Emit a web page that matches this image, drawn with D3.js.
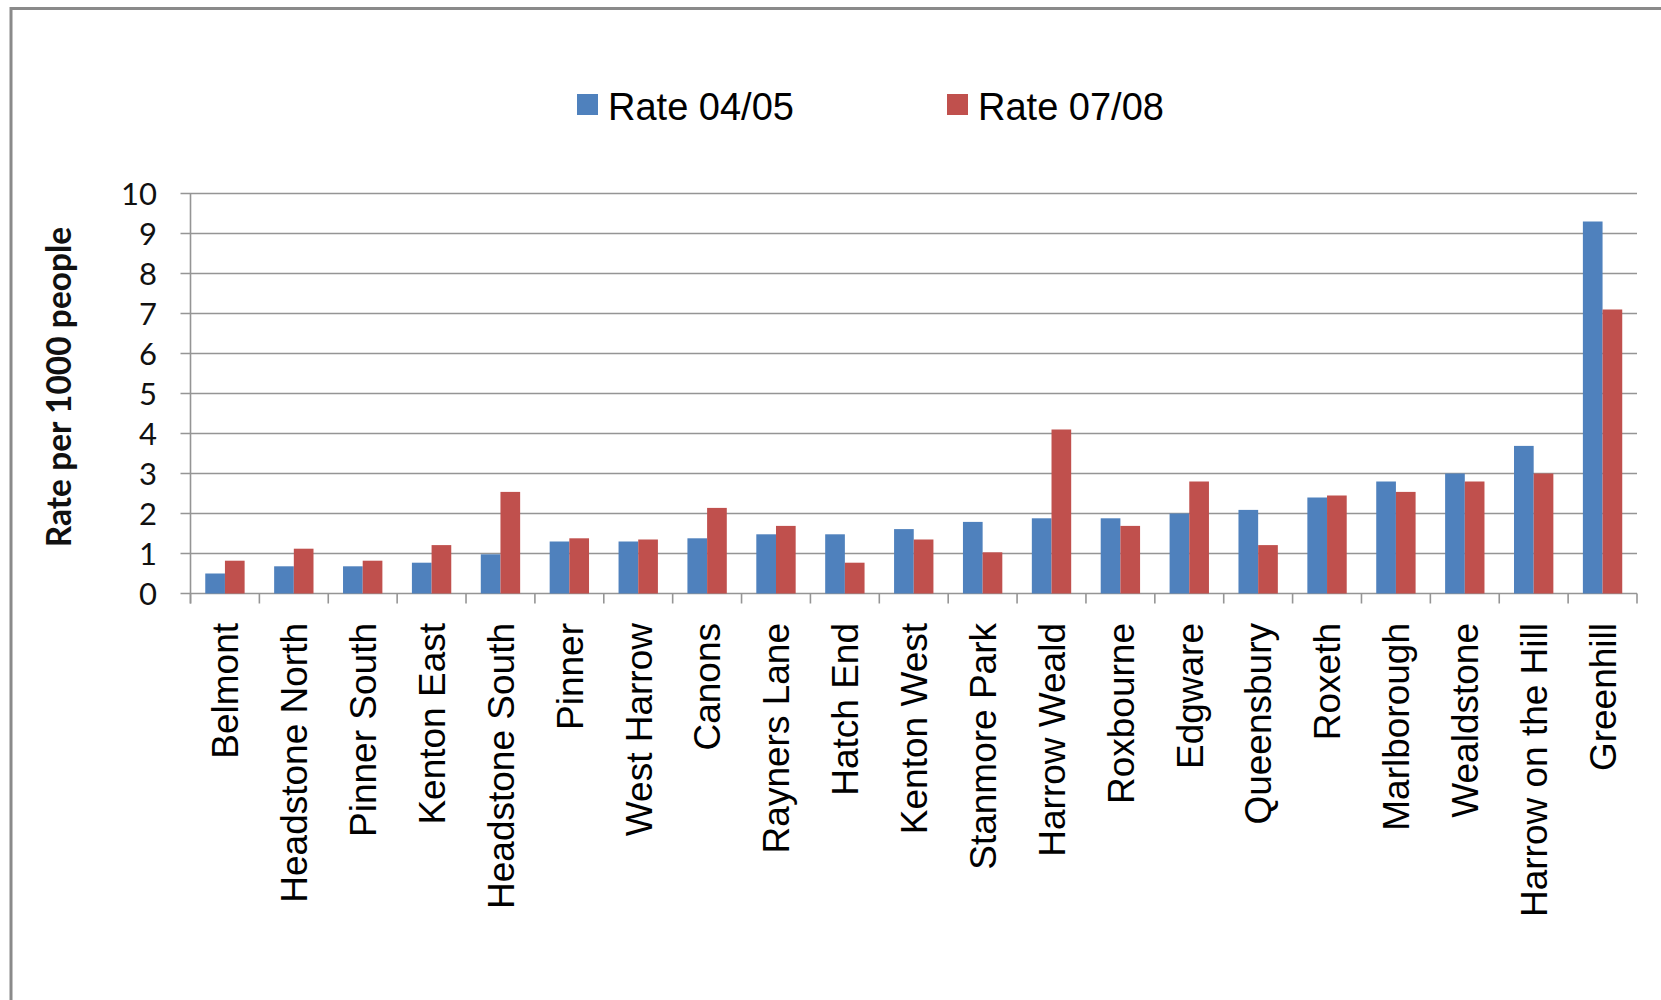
<!DOCTYPE html>
<html>
<head>
<meta charset="utf-8">
<script src="https://cdn.jsdelivr.net/npm/d3@7"></script>
<style>
  html, body { margin: 0; padding: 0; background: #fff; }
  svg { display: block; }
</style>
</head>
<body>
<svg id="chart" width="1661" height="1000"></svg>
<script>
// Ward names, ordered by the 04/05 rate
const wards = [
  "Belmont", "Headstone North", "Pinner South", "Kenton East", "Headstone South",
  "Pinner", "West Harrow", "Canons", "Rayners Lane", "Hatch End", "Kenton West",
  "Stanmore Park", "Harrow Weald", "Roxbourne", "Edgware", "Queensbury",
  "Roxeth", "Marlborough", "Wealdstone", "Harrow on the Hill", "Greenhill"
];
const seriesNames = ["Rate 04/05", "Rate 07/08"];
const rate0405 = [0.50, 0.68, 0.68, 0.77, 0.98, 1.30, 1.30, 1.38, 1.48, 1.48, 1.61,
                  1.79, 1.88, 1.88, 2.00, 2.09, 2.40, 2.80, 3.00, 3.69, 9.30];
const rate0708 = [0.82, 1.12, 0.82, 1.21, 2.54, 1.38, 1.35, 2.14, 1.69, 0.77, 1.35,
                  1.03, 4.10, 1.69, 2.80, 1.21, 2.45, 2.54, 2.80, 3.00, 7.10];
const yTicks = [0, 1, 2, 3, 4, 5, 6, 7, 8, 9, 10];
const colors = ["#4F81BD", "#C0504D"];

const svg = d3.select("#chart");

// outer chart frame (runs past the right and bottom edges)
svg.append("rect")
  .attr("x", 11).attr("y", 8.5)
  .attr("width", 1700).attr("height", 1100)
  .attr("fill", "none").attr("stroke", "#8a8a8a").attr("stroke-width", 3);

const plotLeft = 190.5, plotRight = 1637, plotTop = 193.5, plotBottom = 593.5;

const x0 = d3.scaleBand().domain(wards).range([plotLeft, plotRight]).padding(0);
const x1 = d3.scaleBand().domain(seriesNames).range([0, x0.bandwidth()])
  .paddingInner(0).paddingOuter(0.75);
const y = d3.scaleLinear().domain([0, 10]).range([plotBottom, plotTop]);

// horizontal gridlines, starting at the y tick marks
svg.append("g").selectAll("line").data(yTicks).join("line")
  .attr("x1", plotLeft - 10).attr("x2", plotRight)
  .attr("y1", d => y(d)).attr("y2", d => y(d))
  .attr("stroke", "#959595").attr("stroke-width", 1.6);

// y-axis labels
svg.append("g").selectAll("text").data(yTicks).join("text")
  .attr("x", 157).attr("y", d => y(d))
  .attr("dy", "0.36em")
  .attr("text-anchor", "end")
  .attr("font-family", "Lato, 'Open Sans', sans-serif")
  .attr("font-size", 31)
  .attr("fill", "#111")
  .text(d => d);

// y-axis title
svg.append("text")
  .attr("transform", "translate(71,387) rotate(-90)")
  .attr("text-anchor", "middle")
  .attr("font-family", "Lato, 'Open Sans', sans-serif")
  .attr("font-weight", "bold")
  .attr("font-size", 33.5)
  .attr("fill", "#111")
  .text("Rate per 1000 people");

// bars
const rows = wards.map((w, i) => ({ ward: w, values: [rate0405[i], rate0708[i]] }));
const groups = svg.append("g").selectAll("g").data(rows).join("g")
  .attr("transform", d => `translate(${x0(d.ward)},0)`);
groups.selectAll("rect")
  .data(d => d.values.map((v, k) => ({ key: seriesNames[k], value: v, k })))
  .join("rect")
  .attr("x", d => x1(d.key))
  .attr("width", x1.bandwidth())
  .attr("y", d => y(d.value))
  .attr("height", d => y(0) - y(d.value))
  .attr("fill", d => colors[d.k]);

// y axis line
svg.append("line")
  .attr("x1", plotLeft).attr("x2", plotLeft)
  .attr("y1", plotTop).attr("y2", plotBottom + 10)
  .attr("stroke", "#959595").attr("stroke-width", 1.6);

// x-axis tick marks at category boundaries
const boundaries = wards.map(w => x0(w)).concat([plotRight]);
svg.append("g").selectAll("line").data(boundaries).join("line")
  .attr("x1", d => d).attr("x2", d => d)
  .attr("y1", plotBottom).attr("y2", plotBottom + 10)
  .attr("stroke", "#959595").attr("stroke-width", 1.6);

// category labels, rotated
svg.append("g").selectAll("text").data(wards).join("text")
  .attr("transform", d => `translate(${x0(d) + x0.bandwidth() / 2},623) rotate(-90)`)
  .attr("dy", "0.36em")
  .attr("text-anchor", "end")
  .attr("font-family", "'Liberation Sans', Arial, sans-serif")
  .attr("font-size", 37)
  .attr("fill", "#000")
  .text(d => d);

// legend
const legend = svg.append("g");
const legendX = [577, 947];
seriesNames.forEach((name, k) => {
  legend.append("rect")
    .attr("x", legendX[k]).attr("y", 94)
    .attr("width", 21).attr("height", 21)
    .attr("fill", colors[k]);
  legend.append("text")
    .attr("x", legendX[k] + 31).attr("y", 120)
    .attr("font-family", "'Liberation Sans', Arial, sans-serif")
    .attr("font-size", 38)
    .attr("fill", "#000")
    .text(name);
});
</script>
</body>
</html>
